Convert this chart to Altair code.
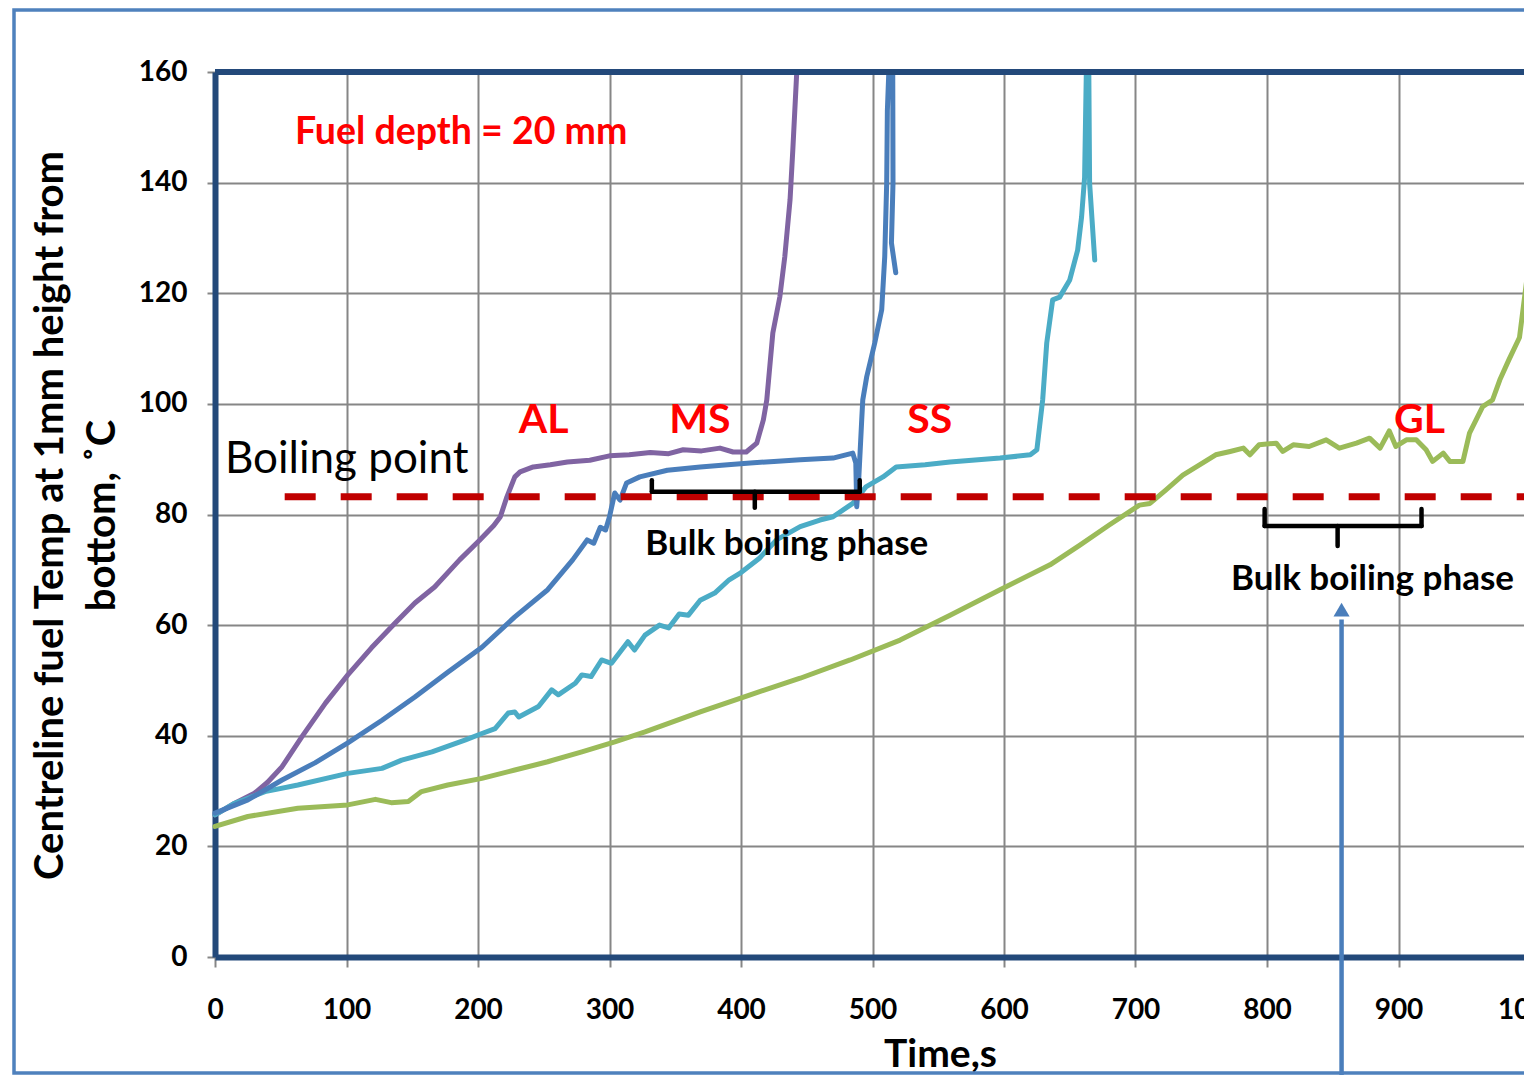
import altair as alt
import pandas as pd

# ---------------- data ----------------
series_names = ["AL", "MS", "SS", "GL"]
series_colors = ["#8064A2", "#4A7EBB", "#4BACC6", "#9BBB59"]

al_t = [0, 15, 30, 40, 51, 66, 84, 101, 119, 137, 152, 167, 186, 201, 212, 217, 222, 228, 232, 242,
        255, 268, 285, 300, 315, 331, 345, 356, 370, 384, 394, 404, 412, 417, 419.6, 424.2, 429.5,
        433.3, 437.3, 439.4, 442.4]
al_T = [25.7, 27.8, 29.6, 31.6, 34.4, 39.8, 45.9, 51.0, 55.9, 60.4, 64.0, 66.9, 71.8, 75.3, 78.0, 79.6,
        83.2, 86.8, 87.7, 88.6, 89.0, 89.5, 89.8, 90.6, 90.8, 91.2, 91.0, 91.7, 91.5, 92.0, 91.3, 91.3,
        92.9, 97.1, 100.7, 112.8, 119.3, 126.6, 136.9, 145.9, 160.0]

ms_t = [0, 25, 51, 76, 101, 127, 152, 177, 203, 228, 253, 272, 283, 288, 293, 297, 300, 304, 308, 313,
        323, 344, 369, 390, 407, 425, 445, 470, 485, 487.3, 488, 489.5, 491.8, 492.6, 495.6, 501.7, 507,
        509.3, 510.8, 511.3, 512.4, 515.4, 515.6, 514.4, 517.7]
ms_T = [26.0, 28.4, 32.0, 35.1, 38.7, 42.8, 47.0, 51.5, 56.0, 61.5, 66.4, 71.8, 75.4, 74.8, 77.7, 77.2,
        79.6, 83.9, 82.6, 85.7, 86.8, 88.0, 88.6, 89.0, 89.3, 89.6, 89.9, 90.2, 91.1, 89.3, 81.4, 86.2,
        97.1, 100.7, 104.9, 111.0, 117.0, 126.6, 140.0, 153.0, 160.0, 160.0, 140.0, 129.1, 123.7]

ss_t = [0, 15, 38, 63, 101, 127, 142, 165, 190, 203, 213, 223, 228, 231, 246, 256, 261, 274, 279, 286,
        294, 301.5, 314, 319, 327, 338, 345, 353, 360, 369, 380, 391, 400, 414, 427, 445, 460, 470, 485,
        495, 508, 518, 540, 559, 597, 620, 625, 629.4, 632.5, 637, 642.3, 650, 656, 659, 661.3, 662.6,
        664.5, 665.1, 669]
ss_T = [25.7, 27.8, 29.9, 31.1, 33.2, 34.1, 35.6, 37.1, 39.2, 40.4, 41.3, 44.1, 44.3, 43.4, 45.3, 48.3,
        47.4, 49.5, 51.0, 50.7, 53.7, 53.1, 57.0, 55.5, 58.2, 60.0, 59.5, 62.0, 61.8, 64.5, 65.8, 68.2,
        69.5, 72.1, 75.4, 77.8, 79.0, 79.6, 82.0, 85.0, 86.8, 88.6, 89.0, 89.5, 90.2, 90.8, 91.7, 100.7,
        111.0, 118.8, 119.3, 122.4, 127.8, 133.8, 141.0, 160.0, 160.0, 139.9, 126.0]

gl_t = [0, 25, 63, 101, 122, 134, 147, 157, 177, 203, 228, 253, 279, 304, 327, 369, 407, 445, 483, 521,
        559, 597, 635, 658, 680, 703, 711, 723, 736, 749, 761, 772, 782, 787, 794, 807, 812, 820, 832,
        845, 855, 868, 878, 886, 893, 898, 906, 913.5, 921, 926, 934, 939, 949, 954, 964, 971.5, 977,
        984, 992, 998, 1001]
gl_T = [23.6, 25.4, 26.9, 27.5, 28.5, 27.9, 28.1, 29.9, 31.1, 32.3, 33.8, 35.3, 37.1, 38.9, 40.7, 44.3,
        47.4, 50.4, 53.7, 57.3, 61.8, 66.4, 70.9, 74.5, 78.1, 81.7, 82.0, 84.4, 87.1, 89.0, 90.8, 91.4,
        92.0, 90.8, 92.6, 92.9, 91.4, 92.6, 92.3, 93.5, 92.0, 92.9, 93.8, 92.0, 95.1, 92.3, 93.5, 93.5,
        91.7, 89.6, 91.1, 89.6, 89.6, 94.7, 99.5, 100.7, 104.3, 108.0, 112.0, 123.3, 129.6]

x_ticks = list(range(0, 1001, 100))
y_ticks = list(range(0, 161, 20))

boiling_point = 83.2
boiling_start = 53

label_t = [250, 368.7, 543.5, 916]
label_T = [94.7, 94.7, 94.7, 94.7]

# bracket segments: (t, t2, T, T2)
br_t = [332.2, 332.2, 490.3, 410.5, 798.2, 798.2, 917.5, 853.7]
br_t2 = [490.3, 332.2, 490.3, 410.5, 917.5, 798.2, 917.5, 853.7]
br_T = [84.1, 84.1, 84.1, 84.1, 77.9, 77.9, 77.9, 77.9]
br_T2 = [84.1, 86.2, 86.2, 81.2, 77.9, 81.0, 81.0, 74.3]

bulk_t = [434.8, 880.2]
bulk_T = [72.7, 66.4]

arrow_t = 856.7
arrow_top = 61.0
arrow_bottom = -22.0

# ---------------- build tables ----------------
rows = []
for name, ts, Ts in [("AL", al_t, al_T), ("SS", ss_t, ss_T), ("MS", ms_t, ms_T), ("GL", gl_t, gl_T)]:
    for i, (t, T) in enumerate(zip(ts, Ts)):
        rows.append({"series": name, "t": t, "T": T, "i": i})
df = pd.DataFrame(rows)

FONT = "Lato"
GRID = "#868686"
DARK = "#23497A"

xscale = alt.Scale(domain=[0, 1000], range=[0, 1315], nice=False, zero=False)
yscale = alt.Scale(domain=[0, 160], nice=False, zero=False)

x_axis = alt.Axis(values=x_ticks, format="d", title="Time,s", labelFont=FONT, labelFontSize=28,
                  labelFontWeight="bold", labelColor="black", labelPadding=29, labelFlush=False,
                  labelOverlap=False, tickColor=GRID, tickWidth=2, tickSize=10, grid=True,
                  gridColor=GRID, gridWidth=2, domainColor=DARK, domainWidth=6,
                  titleFont=FONT, titleFontSize=39, titleFontWeight="bold", titleColor="black",
                  titleX=725, titleY=109, titleBaseline="alphabetic", titleAlign="center")
y_axis = alt.Axis(values=y_ticks, format="d",
                  title=["Centreline fuel Temp at 1mm height from", "bottom, ˚C"],
                  labelFont=FONT, labelFontSize=28, labelFontWeight="bold", labelColor="black",
                  labelPadding=20, labelFlush=False, labelOverlap=False, tickColor=GRID, tickWidth=2,
                  tickSize=8, grid=True, gridColor=GRID, gridWidth=2, domainColor=DARK, domainWidth=6,
                  titleFont=FONT, titleFontSize=40, titleFontWeight="bold", titleColor="black",
                  titleX=-153, titleY=443, titleAngle=270, titleBaseline="alphabetic",
                  titleAlign="center", titleLineHeight=52)

lines = alt.Chart(df).mark_line(strokeWidth=5, strokeJoin="round", strokeCap="round").encode(
    x=alt.X("t:Q", scale=xscale, axis=x_axis),
    y=alt.Y("T:Q", scale=yscale, axis=y_axis),
    color=alt.Color("series:N", scale=alt.Scale(domain=series_names, range=series_colors), legend=None),
    detail="series:N",
    order="i:Q",
)

top_border = alt.Chart(pd.DataFrame({"t": [0], "t2": [1000], "T": [160]})).mark_rule(
    color=DARK, strokeWidth=6).encode(x="t:Q", x2="t2:Q", y="T:Q")

boil = alt.Chart(pd.DataFrame({"t": [boiling_start], "t2": [1000], "T": [boiling_point]})).mark_rule(
    color="#C00000", strokeWidth=7, strokeDash=[31, 25], strokeCap="butt").encode(
    x="t:Q", x2="t2:Q", y="T:Q")

brackets = alt.Chart(pd.DataFrame({"t": br_t, "t2": br_t2, "T": br_T, "T2": br_T2})).mark_rule(
    color="black", strokeWidth=4.5, strokeCap="round").encode(x="t:Q", x2="t2:Q", y="T:Q", y2="T2:Q")

arrow = alt.Chart(pd.DataFrame({"t": [arrow_t], "T": [arrow_top], "T2": [arrow_bottom]})).mark_rule(
    color="#4A7EBB", strokeWidth=4.5).encode(x="t:Q", y="T:Q", y2="T2:Q")
arrow_head = alt.Chart(pd.DataFrame({"t": [arrow_t], "T": [arrow_top + 1.8]})).mark_point(
    shape="triangle-up", size=260, filled=True, color="#4A7EBB", opacity=1).encode(x="t:Q", y="T:Q")

series_labels = alt.Chart(pd.DataFrame({"t": label_t, "T": label_T, "txt": series_names})).mark_text(
    font=FONT, fontSize=41, fontWeight="bold", color="#FF0000", align="center", baseline="alphabetic"
).encode(x="t:Q", y="T:Q", text="txt:N")

fuel = alt.Chart(pd.DataFrame({"t": [60.8], "T": [147.0], "txt": ["Fuel depth = 20 mm"]})).mark_text(
    font=FONT, fontSize=37.5, fontWeight="bold", color="#FF0000", align="left", baseline="alphabetic"
).encode(x="t:Q", y="T:Q", text="txt:N")

boil_txt = alt.Chart(pd.DataFrame({"t": [7.6], "T": [87.5], "txt": ["Boiling point"]})).mark_text(
    font=FONT, fontSize=44, fontWeight="normal", color="black", align="left", baseline="alphabetic"
).encode(x="t:Q", y="T:Q", text="txt:N")

bulk_txt = alt.Chart(pd.DataFrame({"t": bulk_t, "T": bulk_T,
                                   "txt": ["Bulk boiling phase", "Bulk boiling phase"]})).mark_text(
    font=FONT, fontSize=35, fontWeight="bold", color="black", align="center", baseline="alphabetic"
).encode(x="t:Q", y="T:Q", text="txt:N")

frame = alt.Chart(pd.DataFrame({"a": [0]})).mark_rect(
    fillOpacity=0, stroke="#4F81BD", strokeWidth=3.5).encode(
    x=alt.value(-201), x2=alt.value(1420), y=alt.value(-62), y2=alt.value(1001))

chart = alt.layer(
    lines, top_border, boil, brackets, arrow, arrow_head, series_labels, fuel, boil_txt, bulk_txt, frame
).properties(
    width=1309, height=885,
    autosize=alt.AutoSizeParams(type="none"),
    padding={"left": 207, "top": 64, "right": 0, "bottom": 118},
    background="white",
).configure_view(strokeWidth=0)

chart.save("out.html", embed_options={"renderer": "svg", "actions": False})
